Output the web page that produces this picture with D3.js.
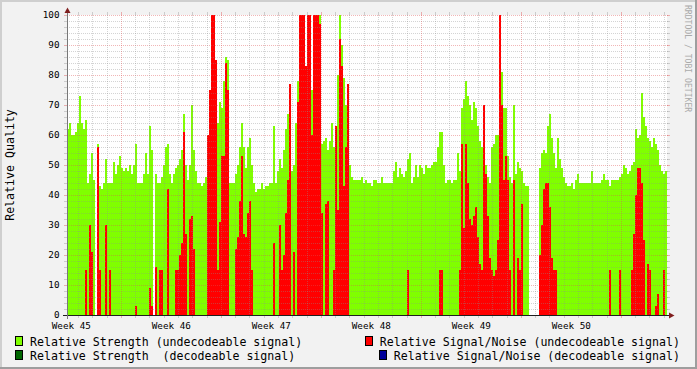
<!DOCTYPE html>
<html lang="en">
<head>
<meta charset="UTF-8">
<title>Relative Quality</title>
<script src="https://d3js.org/d3.v7.min.js"></script>
<style>
  body { margin: 0; background: #fff; }
  svg { display: block; }
  text { font-family: "DejaVu Sans Mono", monospace; white-space: pre; }
</style>
</head>
<body>
<script>
// one sample every 2 px, 50 samples per week (rows = weeks)
var strengthUndecodeable = [
  62, 64, 60, 60, 61, 64, 73, 64, 62, 65, 44, 47, 54, 45, 0, 57, 43, 42, 44, 52, 44, 44, 44, 51, 47, 50, 53, 49, 48, 49, 48, 50, 47, 50, 57, 44, 44, 44, 47, 54, 47, 63, 55, 0, 47, 44, 44, 46, 50, 56,
  57, 47, 44, 47, 49, 50, 52, 55, 67, 50, 45, 50, 70, 55, 48, 44, 44, 43, 44, 46, 60, 60, 60, 60, 64, 64, 71, 69, 78, 86, 85, 44, 44, 44, 47, 50, 56, 64, 56, 49, 56, 59, 50, 44, 41, 42, 42, 44, 42, 43,
  43, 44, 44, 63, 44, 48, 52, 49, 55, 62, 67, 48, 48, 50, 64, 78, 80, 80, 80, 57, 60, 71, 75, 80, 80, 80, 100, 57, 58, 59, 55, 58, 64, 56, 62, 80, 100, 90, 79, 70, 61, 50, 46, 45, 45, 45, 45, 46, 44, 45,
  44, 44, 43, 45, 45, 44, 44, 46, 44, 44, 44, 44, 44, 48, 51, 46, 49, 47, 46, 48, 52, 54, 44, 46, 50, 46, 50, 49, 47, 50, 49, 49, 50, 51, 51, 56, 61, 61, 50, 44, 45, 45, 44, 45, 45, 54, 48, 69, 72, 78,
  73, 70, 65, 71, 69, 63, 58, 56, 50, 50, 46, 44, 56, 57, 60, 60, 62, 81, 69, 69, 53, 46, 44, 70, 47, 51, 49, 48, 44, 43, 43, 0, 0, 0, 0, 0, 49, 54, 55, 54, 63, 67, 59, 54, 49, 59, 52, 49, 46, 44,
  43, 43, 44, 42, 45, 47, 44, 44, 44, 44, 44, 44, 48, 44, 44, 44, 44, 45, 47, 45, 45, 43, 45, 45, 45, 45, 46, 47, 50, 49, 47, 48, 50, 51, 62, 59, 60, 74, 66, 63, 59, 58, 56, 59, 57, 55, 50, 48, 47, 48
];
var snrUndecodeable = [
  0, 0, 0, 0, 0, 0, 0, 0, 0, 15, 0, 30, 21, 0, 0, 56, 15, 0, 0, 30, 0, 15, 0, 0, 0, 0, 0, 0, 0, 0, 0, 0, 0, 0, 3, 0, 0, 0, 0, 0, 0, 9, 3, 0, 16, 0, 15, 15, 0, 0,
  42, 0, 0, 0, 15, 15, 20, 24, 61, 27, 0, 32, 33, 22, 0, 0, 0, 0, 0, 0, 60, 75, 100, 100, 85, 15, 31, 53, 53, 84, 75, 0, 0, 0, 22, 26, 38, 53, 27, 26, 34, 38, 15, 0, 0, 0, 0, 0, 0, 0,
  0, 0, 0, 24, 0, 0, 30, 15, 20, 34, 45, 77, 0, 21, 0, 71, 100, 100, 100, 83, 100, 100, 60, 100, 100, 100, 97, 34, 0, 37, 38, 0, 0, 15, 63, 35, 92, 83, 43, 56, 77, 0, 0, 0, 0, 0, 0, 0, 0, 0,
  0, 0, 0, 0, 0, 0, 0, 0, 0, 0, 0, 0, 0, 0, 0, 0, 0, 0, 0, 0, 15, 0, 0, 0, 0, 0, 0, 0, 0, 0, 0, 0, 0, 0, 0, 0, 15, 15, 0, 0, 0, 0, 0, 0, 0, 0, 15, 57, 29, 57,
  44, 32, 30, 33, 36, 26, 17, 15, 70, 47, 33, 19, 15, 13, 15, 25, 100, 70, 45, 53, 45, 15, 0, 45, 0, 19, 15, 37, 0, 0, 0, 0, 0, 0, 0, 0, 20, 30, 42, 44, 44, 36, 19, 15, 15, 0, 0, 0, 0, 0,
  0, 0, 0, 0, 0, 0, 0, 0, 0, 0, 0, 0, 0, 0, 0, 0, 0, 0, 0, 0, 0, 15, 0, 0, 0, 0, 15, 0, 0, 0, 0, 0, 15, 27, 40, 49, 49, 44, 25, 0, 17, 15, 0, 0, 3, 7, 0, 0, 15, 0
];
var yTicks = [0, 10, 20, 30, 40, 50, 60, 70, 80, 90, 100];
var legendLeft = ["Relative Strength (undecodeable signal)", "Relative Strength  (decodeable signal)"];
var legendRight = ["Relative Signal/Noise (undecodeable signal)", "Relative Signal/Noise (decodeable signal)"];
var legendColorsLeft = ["#80ff00", "#006600"];
var legendColorsRight = ["#ff0000", "#000099"];

var width = 697, height = 369;
var startTime = new Date(Date.UTC(2008, 10, 6, 4, 45));
var endTime = new Date(Date.UTC(2008, 11, 18, 4, 45));
var n = strengthUndecodeable.length;
function sampleTime(i) { return new Date(+startTime + i * (endTime - startTime) / n); }

var x = d3.scaleUtc().domain([startTime, endTime]).range([67, 667]);
var y = d3.scaleLinear().domain([0, 100]).range([315, 15]);

var svg = d3.select("body").append("svg")
  .attr("width", width)
  .attr("height", height);

// background + shade border
svg.append("rect").attr("width", width).attr("height", height).attr("fill", "#f2f2f2");
svg.append("path").attr("d", "M0,1H696M1,0V368").attr("stroke", "#cfcfcf").attr("stroke-width", 2);
svg.append("path").attr("d", "M0,368H697M696,0V369").attr("stroke", "#9e9e9e").attr("stroke-width", 2);
svg.append("rect").attr("x", 67).attr("y", 15).attr("width", 600).attr("height", 300).attr("fill", "#fff");

// areas, step style
function series(values) {
  var pts = values.map(function(v, i) { return { t: sampleTime(i), v: v }; });
  pts.push({ t: sampleTime(n), v: values[n - 1] });
  return pts;
}
var area = d3.area()
  .x(function(d) { return Math.round(x(d.t)); })
  .y0(y(0))
  .y1(function(d) { return y(d.v); })
  .curve(d3.curveStepAfter);

svg.append("path").attr("d", area(series(strengthUndecodeable)))
  .attr("fill", "#80ff00").attr("shape-rendering", "crispEdges");
svg.append("path").attr("d", area(series(snrUndecodeable)))
  .attr("fill", "#ff0000").attr("shape-rendering", "crispEdges");

// grid
var gridCol = "rgba(143,143,143,0.38)", mgridCol = "rgba(222,80,80,0.42)";
var grid = svg.append("g").attr("shape-rendering", "crispEdges").attr("stroke-dasharray", "1,1");
d3.range(0, 101, 2).forEach(function(v) {
  var major = v % 10 == 0;
  var yy = Math.round(y(v)) + 0.5;
  if (v > 0) grid.append("line").attr("x1", 67).attr("x2", 668).attr("y1", yy).attr("y2", yy)
    .attr("stroke", major ? mgridCol : gridCol);
  svg.append("line").attr("x1", 64).attr("x2", 67).attr("y1", yy).attr("y2", yy)
    .attr("stroke", major ? mgridCol : gridCol).attr("shape-rendering", "crispEdges");
  svg.append("line").attr("x1", 667).attr("x2", 670).attr("y1", yy).attr("y2", yy)
    .attr("stroke", major ? mgridCol : gridCol).attr("shape-rendering", "crispEdges");
});
d3.utcDay.range(startTime, endTime).forEach(function(d) {
  var major = d.getUTCDay() == 1;
  var xx = Math.floor(x(d)) + 0.5;
  grid.append("line").attr("x1", xx).attr("x2", xx).attr("y1", 15).attr("y2", 315)
    .attr("stroke", major ? mgridCol : gridCol);
  svg.append("line").attr("x1", xx).attr("x2", xx).attr("y1", 315).attr("y2", 318)
    .attr("stroke", major ? mgridCol : gridCol).attr("shape-rendering", "crispEdges");
  svg.append("line").attr("x1", xx).attr("x2", xx).attr("y1", 12).attr("y2", 15)
    .attr("stroke", major ? mgridCol : gridCol).attr("shape-rendering", "crispEdges");
});

// axes + arrows
svg.append("line").attr("x1", 63).attr("x2", 671).attr("y1", 315.5).attr("y2", 315.5)
  .attr("stroke", "#1f1f1f").attr("shape-rendering", "crispEdges");
svg.append("line").attr("x1", 67.5).attr("x2", 67.5).attr("y1", 319).attr("y2", 11)
  .attr("stroke", "#777").attr("shape-rendering", "crispEdges");
svg.append("path").attr("d", "M669,312.5L669,318.5L674.5,315.5Z").attr("fill", "#801f1f");
svg.append("path").attr("d", "M64.5,13L70.5,13L67.5,7.5Z").attr("fill", "#801f1f");

// y tick labels
svg.append("g").selectAll("text").data(yTicks).join("text")
  .attr("x", 59.5).attr("y", function(d) { return y(d) + 3.4; })
  .attr("text-anchor", "end").attr("font-size", "9.3px").attr("fill", "#000")
  .text(function(d) { return d; });

// week labels, centred mid week
var weekFmt = d3.utcFormat("%V");
d3.utcMonday.range(d3.utcMonday.floor(startTime), endTime).forEach(function(m) {
  var mid = new Date(+m + 3.5 * 864e5);
  var xx = x(mid);
  if (xx < 67 || xx > 667) return;
  svg.append("text").attr("x", xx).attr("y", 328.5).attr("text-anchor", "middle")
    .attr("font-size", "9.3px").text("Week " + weekFmt(m));
});

// y title
svg.append("text").attr("transform", "translate(14,165) rotate(-90)")
  .attr("text-anchor", "middle").attr("font-size", "11.6px").text("Relative Quality");

// watermark
svg.append("text").attr("transform", "translate(685,5) rotate(90)")
  .attr("font-size", "8.1px").attr("fill", "#aaaaaa").text("RRDTOOL / TOBI OETIKER");

// legend
var rowsY = [345.5, 359.5];
legendLeft.forEach(function(label, i) {
  svg.append("rect").attr("x", 15.5).attr("y", rowsY[i] - 9).attr("width", 7).attr("height", 9)
    .attr("fill", legendColorsLeft[i]).attr("stroke", "#000");
  svg.append("text").attr("x", 30).attr("y", rowsY[i]).attr("font-size", "11.6px")
    .attr("xml:space", "preserve").text(label);
});
legendRight.forEach(function(label, i) {
  var t = svg.append("text").attr("x", 680).attr("y", rowsY[i]).attr("text-anchor", "end")
    .attr("font-size", "11.6px").text(label);
  var w = t.node().getComputedTextLength();
  svg.append("rect").attr("x", Math.round(680 - w - 15) + 0.5).attr("y", rowsY[i] - 9)
    .attr("width", 7).attr("height", 9)
    .attr("fill", legendColorsRight[i]).attr("stroke", "#000");
});
</script>
</body>
</html>
